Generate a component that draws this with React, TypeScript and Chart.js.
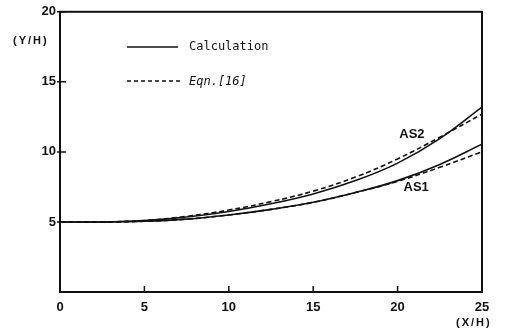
import React, { useEffect, useRef } from "react";
import { Chart, registerables } from "chart.js";

Chart.register(...registerables);

// Distance along the wall, x/H
const xValues = [0, 2.5, 5, 7.5, 10, 12.5, 15, 17.5, 20, 22.5, 25];
// Jet boundary y/H for the two cases
const as2Calc = [5.0, 5.0, 5.1, 5.35, 5.75, 6.3, 7.0, 7.95, 9.2, 10.95, 13.2];
const as2Eqn = [5.0, 5.0, 5.1, 5.4, 5.85, 6.45, 7.2, 8.2, 9.5, 11.05, 12.7];
const as1Calc = [5.0, 5.0, 5.05, 5.2, 5.5, 5.9, 6.4, 7.1, 7.95, 9.1, 10.55];
const as1Eqn = [5.0, 5.0, 5.05, 5.2, 5.5, 5.9, 6.4, 7.1, 7.9, 8.9, 10.0];

const xTicks = [0, 5, 10, 15, 20, 25];
const yTicks = [5, 10, 15, 20];

const curveLabels = [
  { text: "AS2", x: 20.85, y: 11.25 },
  { text: "AS1", x: 21.1, y: 7.45 },
];

const INK = "#111";
const SANS = "'Liberation Sans', Arial, sans-serif";
const MONO = "12px 'DejaVu Sans Mono', monospace";

const toPoints = (ys: number[]) => xValues.map((x, i) => ({ x, y: ys[i] }));

const framePlugin = {
  id: "frameAndNotes",
  afterDraw(chart: any) {
    const { ctx, chartArea: a, scales } = chart;
    const xs = scales.x;
    const ys = scales.y;
    ctx.save();
    ctx.strokeStyle = INK;
    ctx.lineWidth = 2;
    ctx.strokeRect(a.left, a.top, a.right - a.left, a.bottom - a.top);

    // inward ticks
    ctx.lineWidth = 1.5;
    ctx.beginPath();
    xTicks.forEach((v) => {
      const px = xs.getPixelForValue(v);
      ctx.moveTo(px, a.bottom);
      ctx.lineTo(px, a.bottom - 6);
    });
    yTicks.forEach((v) => {
      const py = ys.getPixelForValue(v);
      ctx.moveTo(a.left - 3, py);
      ctx.lineTo(a.left + 6, py);
    });
    ctx.stroke();

    // axis titles
    ctx.fillStyle = INK;
    ctx.textAlign = "left";
    ctx.textBaseline = "middle";
    ctx.letterSpacing = "2px";
    ctx.font = `bold 11px ${SANS}`;
    ctx.fillText("(Y/H)", 13, 41);
    ctx.fillText("(X/H)", 456, 323);
    ctx.letterSpacing = "0px";

    // curve labels
    ctx.font = `bold 13px ${SANS}`;
    ctx.textAlign = "center";
    curveLabels.forEach((l) => {
      ctx.fillText(l.text, xs.getPixelForValue(l.x), ys.getPixelForValue(l.y));
    });

    // legend
    ctx.lineWidth = 1.4;
    ctx.beginPath();
    ctx.moveTo(127, 47);
    ctx.lineTo(178, 47);
    ctx.stroke();
    ctx.setLineDash([4, 3]);
    ctx.beginPath();
    ctx.moveTo(127, 81);
    ctx.lineTo(180, 81);
    ctx.stroke();
    ctx.setLineDash([]);
    ctx.textAlign = "left";
    ctx.font = MONO;
    ctx.fillText("Calculation", 189, 47);
    ctx.font = "italic " + MONO;
    ctx.fillText("Eqn.[16]", 189, 82);
    ctx.restore();
  },
};

export default function App() {
  const ref = useRef<HTMLCanvasElement | null>(null);

  useEffect(() => {
    if (!ref.current) return;
    const solid = { borderColor: INK, borderWidth: 1.6, pointRadius: 0, tension: 0.4, fill: false };
    const dashed = { ...solid, borderDash: [5, 3] };
    const tickFont = { family: SANS, size: 13, weight: "bold" as const };
    const chart = new Chart(ref.current, {
      type: "line",
      data: {
        datasets: [
          { label: "AS2 Calculation", data: toPoints(as2Calc), ...solid },
          { label: "AS2 Eqn.[16]", data: toPoints(as2Eqn), ...dashed },
          { label: "AS1 Calculation", data: toPoints(as1Calc), ...solid },
          { label: "AS1 Eqn.[16]", data: toPoints(as1Eqn), ...dashed },
        ],
      },
      options: {
        animation: false,
        responsive: false,
        layout: { padding: { top: 10, right: 30, left: 0, bottom: 0 } },
        plugins: { legend: { display: false }, tooltip: { enabled: false } },
        scales: {
          x: {
            type: "linear",
            min: 0,
            max: 25,
            border: { display: false },
            grid: { display: false, drawTicks: false },
            afterFit: (s: any) => { s.height = 40; },
            ticks: { stepSize: 5, padding: 8, color: INK, font: tickFont, maxRotation: 0 },
          },
          y: {
            type: "linear",
            min: 0,
            max: 20,
            border: { display: false },
            grid: { display: false, drawTicks: false },
            afterFit: (s: any) => { s.width = 60; },
            ticks: {
              stepSize: 5,
              padding: 4,
              color: INK,
              font: tickFont,
              callback: (v: any) => (v === 0 ? "" : String(v)),
            },
          },
        },
      },
      plugins: [framePlugin],
    });
    return () => chart.destroy();
  }, []);

  return (
    <div style={{ position: "absolute", left: 0, top: 0, width: 512, height: 332, background: "#fff" }}>
      <canvas ref={ref} width={512} height={332} style={{ display: "block" }} />
    </div>
  );
}
